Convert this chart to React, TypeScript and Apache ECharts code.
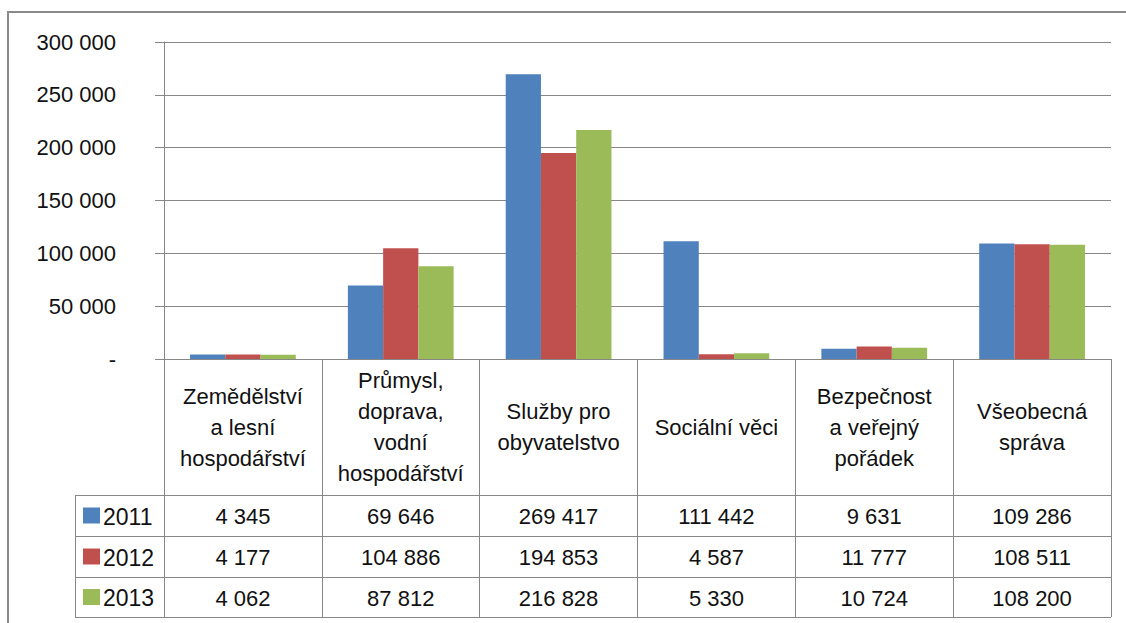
import React, { useEffect, useRef } from "react";
import * as echarts from "echarts";

const categories = [
  "Zemědělství\na lesní\nhospodářství",
  "Průmysl,\ndoprava,\nvodní\nhospodářství",
  "Služby pro\nobyvatelstvo",
  "Sociální věci",
  "Bezpečnost\na veřejný\npořádek",
  "Všeobecná\nspráva",
];
const years = ["2011", "2012", "2013"];
const values2011 = [4345, 69646, 269417, 111442, 9631, 109286];
const values2012 = [4177, 104886, 194853, 4587, 11777, 108511];
const values2013 = [4062, 87812, 216828, 5330, 10724, 108200];
const seriesValues = [values2011, values2012, values2013];
const colors = ["#4F81BD", "#C0504D", "#9BBB59"];

const FONT = "'Liberation Sans', Arial, sans-serif";
const FS = 22;
const GRAY = "#878787";

const fmt = (n: number) => String(n).replace(/\B(?=(\d{3})+(?!\d))/g, " ");

export default function App() {
  const ref = useRef<HTMLDivElement>(null);
  useEffect(() => {
    if (!ref.current) return;
    const chart = echarts.init(ref.current, null, { renderer: "svg" });
    const gridLeft = 164;
    const gridRight = 1111;
    const gridTop = 42;
    const gridBottom = 359;
    chart.setOption({
      animation: false,
      backgroundColor: "#fff",
      textStyle: { fontFamily: FONT },
      grid: {
        left: gridLeft,
        top: gridTop,
        width: gridRight - gridLeft,
        height: gridBottom - gridTop,
        containLabel: false,
      },
      xAxis: {
        type: "category",
        data: categories,
        boundaryGap: true,
        axisLine: { show: true, lineStyle: { color: GRAY, width: 1 } },
        axisTick: {
          show: true,
          length: 258,
          inside: false,
          alignWithLabel: false,
          lineStyle: { color: GRAY, width: 1 },
        },
        axisLabel: {
          interval: 0,
          margin: 68,
          verticalAlign: "middle",
          align: "center",
          fontSize: FS,
          lineHeight: 31,
          color: "#111",
          fontFamily: FONT,
        },
      },
      yAxis: {
        type: "value",
        min: 0,
        max: 300000,
        interval: 50000,
        axisLine: { show: true, lineStyle: { color: GRAY, width: 1 } },
        axisTick: { show: true, length: 9, lineStyle: { color: GRAY, width: 1 } },
        axisLabel: {
          margin: 48,
          fontSize: FS,
          color: "#111",
          fontFamily: FONT,
          formatter: (v: number) => (v === 0 ? "-" : fmt(v)),
        },
        splitLine: { show: true, lineStyle: { color: GRAY, width: 1 } },
      },
      series: years.map((y, i) => ({
        name: y,
        type: "bar",
        data: seriesValues[i],
        itemStyle: { color: colors[i] },
        barGap: "0%",
        barCategoryGap: "33%",
      })),
    });

    const rowTops = [495, 536, 577];
    const rowBottom = 617;
    const tableLeft = 75;
    const els: any[] = [];
    // outer chart border
    els.push({
      type: "rect",
      shape: { x: 8, y: 12, width: 1300, height: 800 },
      style: { fill: "none", stroke: "#8a8a8a", lineWidth: 2 },
      silent: true,
    });
    [...rowTops, rowBottom].forEach((y) => {
      els.push({
        type: "line",
        shape: { x1: tableLeft, y1: y + 0.5, x2: gridRight, y2: y + 0.5 },
        style: { stroke: GRAY, lineWidth: 1 },
      });
    });
    els.push({
      type: "line",
      shape: { x1: tableLeft + 0.5, y1: rowTops[0], x2: tableLeft + 0.5, y2: rowBottom },
      style: { stroke: GRAY, lineWidth: 1 },
    });
    years.forEach((y, r) => {
      const cy = (rowTops[r] + (r < 2 ? rowTops[r + 1] : rowBottom)) / 2;
      els.push({
        type: "rect",
        shape: { x: 83, y: cy - 8, width: 17, height: 16 },
        style: { fill: colors[r] },
      });
      els.push({
        type: "text",
        x: 103,
        y: cy + 1,
        style: {
          text: y,
          font: `${FS + 1}px ${FONT}`,
          fill: "#111",
          verticalAlign: "middle",
          align: "left",
        },
      });
      seriesValues[r].forEach((v, c) => {
        const cx = chart.convertToPixel({ xAxisIndex: 0 }, c) as number;
        els.push({
          type: "text",
          x: cx,
          y: cy + 1,
          style: {
            text: fmt(v),
            font: `${FS}px ${FONT}`,
            fill: "#111",
            verticalAlign: "middle",
            align: "center",
          },
        });
      });
    });
    chart.setOption({ graphic: els });
    return () => chart.dispose();
  }, []);
  return (
    <div
      ref={ref}
      style={{ position: "fixed", left: 0, top: 0, width: 1126, height: 623 }}
    />
  );
}
